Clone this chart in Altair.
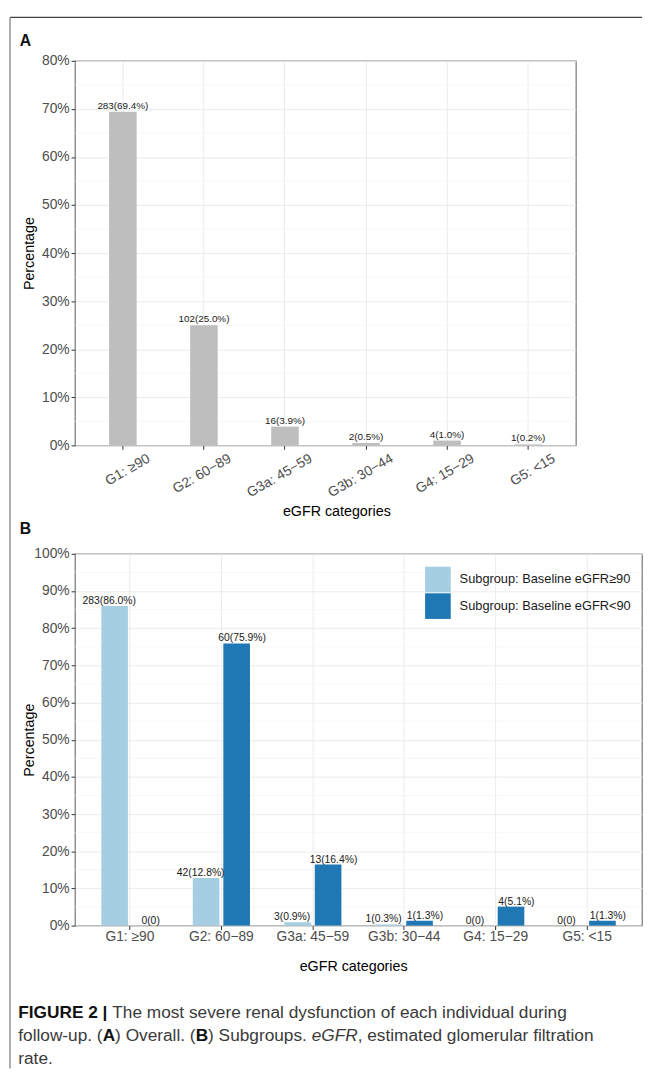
import altair as alt
import pandas as pd

# ---------------- data ----------------
categories = ["G1: ≥90", "G2: 60−89", "G3a: 45−59", "G3b: 30−44", "G4: 15−29", "G5: <15"]
overall_n = [283, 102, 16, 2, 4, 1]
overall_pct = [69.4, 25.0, 3.9, 0.5, 1.0, 0.2]

groups = ["Subgroup: Baseline eGFR≥90", "Subgroup: Baseline eGFR<90"]
ge90_n = [283, 42, 3, 1, 0, 0]
ge90_pct = [86.0, 12.8, 0.9, 0.3, 0.0, 0.0]
lt90_n = [0, 60, 13, 1, 4, 1]
lt90_pct = [0.0, 75.9, 16.4, 1.3, 5.1, 1.3]
group_colors = ["#A6CEE3", "#1F78B4"]

ticks_a = [0, 10, 20, 30, 40, 50, 60, 70, 80]
minor_a = [5, 15, 25, 35, 45, 55, 65, 75]
ticks_b = [0, 10, 20, 30, 40, 50, 60, 70, 80, 90, 100]
minor_b = [5, 15, 25, 35, 45, 55, 65, 75, 85, 95]


def lab(n, p):
    return f"{n}({p:.1f}%)" if n > 0 else "0(0)"


dfA = pd.DataFrame({
    "cat": categories,
    "pct": overall_pct,
    "label": [lab(n, p) for n, p in zip(overall_n, overall_pct)],
})
dfB = pd.DataFrame({
    "cat": categories * 2,
    "group": [groups[0]] * 6 + [groups[1]] * 6,
    "pct": ge90_pct + lt90_pct,
    "label": [lab(n, p) for n, p in zip(ge90_n, ge90_pct)] + [lab(n, p) for n, p in zip(lt90_n, lt90_pct)],
})

FONT = "Liberation Sans"
WA, HA = 508, 390
WB, HB = 575, 377
one = pd.DataFrame({"k": [0]})


def y_axis(vals, h):
    return alt.Axis(values=vals, tickCount=len(vals) + 2, labelExpr="datum.value + '%'",
                    title="Percentage", grid=True, labelFlush=False, labelOverlap=False,
                    labelSeparation=0, labelPadding=2,
                    titleX=-46.6, titleY=h / 2, titleAngle=270,
                    titleAlign="center", titleBaseline="middle")


# ---------------- panel A ----------------
yA = alt.Y("pct:Q", scale=alt.Scale(domain=[0, 80], nice=False), axis=y_axis(ticks_a, HA))
xA = alt.X("cat:N", sort=categories,
           scale=alt.Scale(paddingInner=0.66, paddingOuter=0.42),
           axis=alt.Axis(title="eGFR categories", labelAngle=330, labelAlign="right",
                         labelBaseline="top", labelOffset=23, labelPadding=2,
                         labelOverlap=False,
                         grid=True, titleX=265, titleY=67, titleBaseline="middle"))

minorA = alt.Chart(pd.DataFrame({"pct": minor_a})).mark_rule(
    color="#F3F3F3", strokeWidth=0.7).encode(y=yA, x=alt.value(0), x2=alt.value(WA))
barsA = alt.Chart(dfA).mark_bar(color="#BEBEBE").encode(x=xA, y=yA)
textA = alt.Chart(dfA).mark_text(dy=-3, fontSize=10, font=FONT, color="#1a1a1a",
                                 baseline="alphabetic").encode(x=xA, y=yA, text="label:N")
frameTop = alt.Chart(one).mark_rule(color="#444444", strokeWidth=1.2).encode(
    x=alt.value(-66), x2=alt.value(575), y=alt.value(-44))
frameLeft = alt.Chart(one).mark_rule(color="#777777", strokeWidth=1.2).encode(
    x=alt.value(-66), y=alt.value(-44), y2=alt.value(1022))
letterA = alt.Chart(one).mark_text(text="A", fontSize=16, fontWeight="bold", font=FONT,
                                   align="left", baseline="alphabetic", color="#111111").encode(
    x=alt.value(-56), y=alt.value(-15))

panelA = alt.layer(minorA, barsA, textA, frameTop, frameLeft, letterA).properties(width=WA, height=HA)

# ---------------- panel B ----------------
xB = alt.X("cat:N", sort=categories, scale=alt.Scale(paddingInner=0, paddingOuter=0.1),
           axis=alt.Axis(title="eGFR categories", labelAngle=0, labelPadding=0, grid=True,
                         labelOverlap=False,
                         titleX=282, titleY=42, titleBaseline="middle"))
xoB = alt.XOffset("group:N", sort=groups, scale=alt.Scale(paddingInner=0.129, paddingOuter=0.56))
yB = alt.Y("pct:Q", scale=alt.Scale(domain=[0, 100], nice=False), axis=y_axis(ticks_b, HB))

minorB = alt.Chart(pd.DataFrame({"pct": minor_b})).mark_rule(
    color="#F3F3F3", strokeWidth=0.7).encode(y=yB, x=alt.value(0), x2=alt.value(WB))
barsB = alt.Chart(dfB).mark_bar().encode(
    x=xB, xOffset=xoB, y=yB,
    color=alt.Color("group:N", sort=groups,
                    scale=alt.Scale(domain=groups, range=group_colors),
                    legend=alt.Legend(title=None, orient="none", legendX=355, legendY=13,
                                      symbolType="square", symbolSize=676, symbolStrokeWidth=0,
                                      symbolOpacity=1, labelFontSize=13, labelFont=FONT,
                                      labelColor="#1a1a1a", labelOffset=9, rowPadding=1,
                                      padding=0, labelLimit=400)))


def text_b(group, dx):
    return alt.Chart(dfB).transform_filter(
        alt.datum.group == group
    ).mark_text(dy=-2, dx=dx, fontSize=10.5, font=FONT, color="#1a1a1a",
                baseline="alphabetic").encode(x=xB, xOffset=xoB, y=yB, text="label:N")


textB1 = text_b(groups[0], -5.5)
textB2 = text_b(groups[1], 5.5)
letterB = alt.Chart(one).mark_text(text="B", fontSize=16, fontWeight="bold", font=FONT,
                                   align="left", baseline="alphabetic", color="#111111").encode(
    x=alt.value(-56), y=alt.value(-20))

# ---------------- caption (mixed styles) ----------------
REG = {}
for ch, w in zip(" !(),-.|:", [278, 278, 333, 333, 278, 333, 278, 260, 278]):
    REG[ch] = w
for ch in "0123456789":
    REG[ch] = 556
for ch, w in zip("ABCDEFGHIJKLMNOPQRSTUVWXYZ",
                 [667, 667, 722, 722, 667, 611, 778, 722, 278, 500, 667, 556, 833, 722, 778, 667,
                  778, 722, 667, 611, 722, 667, 944, 667, 667, 611]):
    REG[ch] = w
for ch, w in zip("abcdefghijklmnopqrstuvwxyz",
                 [556, 556, 500, 556, 556, 278, 556, 556, 222, 222, 500, 222, 833, 556, 556, 556,
                  556, 333, 500, 278, 556, 500, 722, 500, 500, 500]):
    REG[ch] = w
BOLD = dict(REG)
BOLD.update({"A": 722, "B": 722, "F": 611, "I": 278, "G": 778, "U": 722, "R": 722, "E": 667,
             "2": 556, " ": 278, "|": 280})

CAP_SIZE = 17.5


def width(s, style):
    table = BOLD if style == "bold" else REG
    return sum(table.get(c, 556) for c in s) / 1000.0 * CAP_SIZE


caption_lines = [
    [("FIGURE 2 |", "bold"), (" The most severe renal dysfunction of each individual during", "normal")],
    [("follow-up. (", "normal"), ("A", "bold"), (") Overall. (", "normal"), ("B", "bold"),
     (") Subgroups. ", "normal"), ("eGFR", "italic"), (", estimated glomerular filtration", "normal")],
    [("rate.", "normal")],
]
caption_y = [470.4, 494.4, 517.4]
caption_x0 = -57.6

cap_layers = []
for line, yy in zip(caption_lines, caption_y):
    xx = caption_x0
    for seg, style in line:
        lead = len(seg) - len(seg.lstrip(" "))
        trail = len(seg) - len(seg.rstrip(" "))
        core = seg.strip(" ")
        xx += lead * width(" ", style)
        cap_layers.append(
            alt.Chart(one).mark_text(
                text=core, font=FONT, fontSize=CAP_SIZE, align="left", baseline="alphabetic",
                fontWeight="bold" if style == "bold" else "normal",
                fontStyle="italic" if style == "italic" else "normal",
                color="#111111" if style == "bold" else "#3a3a3a",
            ).encode(x=alt.value(xx), y=alt.value(yy))
        )
        xx += width(core, style) + trail * width(" ", style)

panelB = alt.layer(minorB, barsB, textB1, textB2, letterB, *cap_layers).properties(width=WB, height=HB)

chart = alt.vconcat(panelA, panelB, spacing=110, bounds="flush").resolve_scale(
    color="independent", x="independent", y="independent"
).resolve_legend(color="independent").properties(
    padding=0, background="white"
).configure_view(
    stroke="#7F7F7F", strokeWidth=1.3
).configure_axis(
    domain=False, tickColor="#333333", tickSize=4, tickWidth=1,
    labelFont=FONT, titleFont=FONT, labelColor="#4D4D4D", titleColor="#000000",
    labelFontSize=14, titleFontSize=14.5, titleFontWeight="normal",
    gridColor="#EBEBEB", gridWidth=1, labelLimit=300, labelOverlap=False
)

chart.save("out.html", embed_options={"renderer": "svg", "actions": False})
